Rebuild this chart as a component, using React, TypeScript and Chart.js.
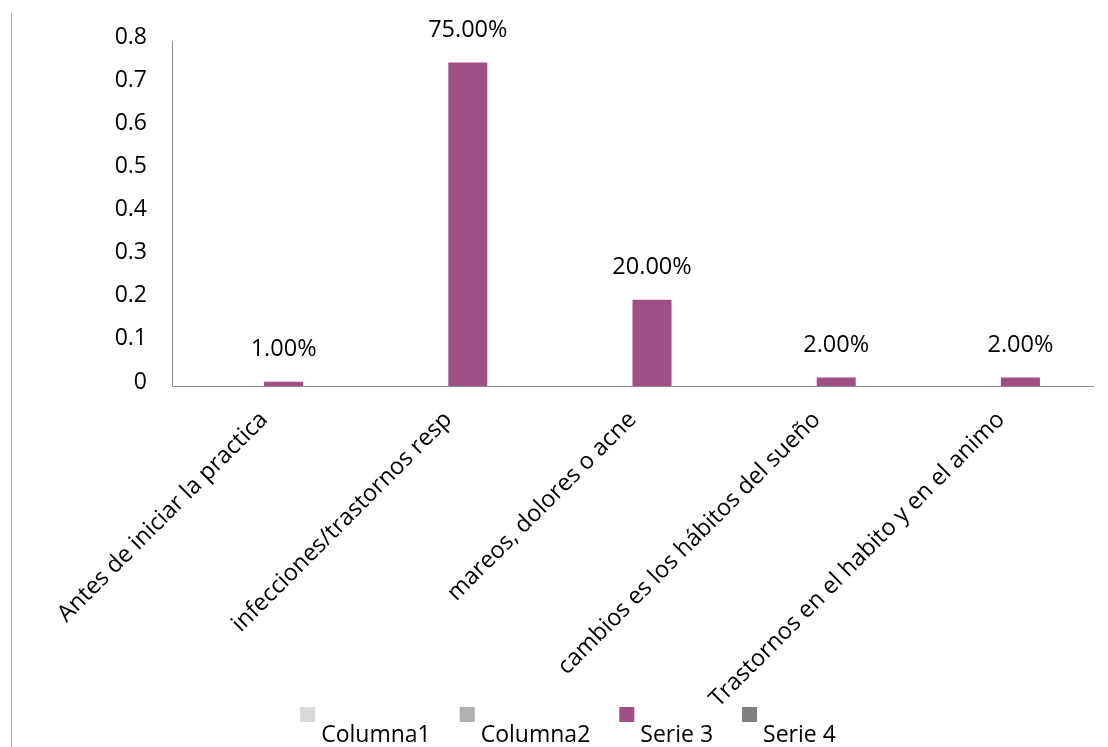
import React, { useEffect, useRef } from 'react';
import { Chart, registerables } from 'chart.js';

Chart.register(...registerables);

const categories = [
  'Antes de iniciar la practica',
  'infecciones/trastornos resp',
  'mareos, dolores o acne',
  'cambios es los hábitos del sueño',
  'Trastornos en el habito y en el animo',
];
const seriesNames = ['Columna1', 'Columna2', 'Serie 3', 'Serie 4'];
const columna1: (number | null)[] = [null, null, null, null, null];
const columna2: (number | null)[] = [null, null, null, null, null];
const serie3: (number | null)[] = [0.01, 0.75, 0.2, 0.02, 0.02];
const serie4: (number | null)[] = [null, null, null, null, null];
const yTickLabels = ['0', '0.1', '0.2', '0.3', '0.4', '0.5', '0.6', '0.7', '0.8'];
const seriesColors = ['#D9D9D9', '#B0B0B0', '#A04F84', '#808080'];

const FONT = "'Open Sans', sans-serif";

const decorPlugin = {
  id: 'decor',
  beforeDraw(chart: any) {
    const ctx = chart.ctx;
    ctx.save();
    ctx.strokeStyle = '#A6A6A6';
    ctx.lineWidth = 1;
    ctx.beginPath();
    ctx.moveTo(11.5, 13);
    ctx.lineTo(11.5, chart.height);
    ctx.stroke();
    ctx.restore();
  },
  afterDatasetsDraw(chart: any) {
    const ctx = chart.ctx;
    ctx.save();
    ctx.font = `23.5px ${FONT}`;
    ctx.fillStyle = '#000';
    ctx.textAlign = 'center';
    ctx.textBaseline = 'middle';
    chart.data.datasets.forEach((ds: any, di: number) => {
      const meta = chart.getDatasetMeta(di);
      ds.data.forEach((v: number | null, i: number) => {
        if (v === null || v === undefined) return;
        const el = meta.data[i];
        ctx.fillText((v * 100).toFixed(2) + '%', el.x, el.y - 32);
      });
    });
    ctx.restore();
  },
  afterDraw(chart: any) {
    const ctx = chart.ctx;
    ctx.save();
    ctx.font = `23px ${FONT}`;
    ctx.textBaseline = 'alphabetic';
    ctx.textAlign = 'left';
    const box = 15;
    const gapText = 6;
    const gapItem = 29;
    const dss = chart.data.datasets;
    const widths = dss.map((ds: any) => ctx.measureText(ds.label).width);
    const total =
      widths.reduce((a: number, w: number) => a + box + gapText + w, 0) + gapItem * (dss.length - 1);
    let x = 568 - total / 2;
    dss.forEach((ds: any, i: number) => {
      ctx.fillStyle = ds.backgroundColor;
      ctx.fillRect(x, 707, box, box);
      ctx.fillStyle = '#000';
      ctx.fillText(ds.label, x + box + gapText, 742);
      x += box + gapText + widths[i] + gapItem;
    });
    ctx.restore();
  },
};

export default function App() {
  const canvasRef = useRef<HTMLCanvasElement | null>(null);

  useEffect(() => {
    if (!canvasRef.current) return;
    const seriesData = [columna1, columna2, serie3, serie4];
    const chart = new Chart(canvasRef.current, {
      type: 'bar',
      data: {
        labels: categories,
        datasets: seriesNames.map((name, i) => ({
          label: name,
          data: seriesData[i],
          backgroundColor: seriesColors[i],
          borderWidth: 0,
          categoryPercentage: 0.847,
          barPercentage: 1.0,
        })),
      },
      options: {
        animation: false,
        responsive: true,
        maintainAspectRatio: false,
        layout: { padding: { top: 41, right: 15, left: 0, bottom: 0 } },
        plugins: {
          legend: { display: false },
          tooltip: { enabled: false },
        },
        scales: {
          x: {
            grid: { display: false },
            border: { display: true, color: '#8C8C8C', width: 1 },
            ticks: {
              autoSkip: false,
              minRotation: 45,
              maxRotation: 45,
              padding: 12,
              color: '#000',
              font: { family: FONT, size: 23.5 },
            },
            afterFit: (scale: any) => {
              scale.height = 361;
            },
          },
          y: {
            min: 0,
            max: 0.8,
            grid: { display: false },
            border: { display: true, color: '#8C8C8C', width: 1 },
            ticks: {
              stepSize: 0.1,
              padding: 17,
              labelOffset: -4,
              color: '#000',
              font: { family: FONT, size: 23 },
              callback: (value: any) => yTickLabels[Math.round(Number(value) * 10)],
            },
            afterFit: (scale: any) => {
              scale.width = 172;
            },
          },
        },
      },
      plugins: [decorPlugin],
    });
    return () => chart.destroy();
  }, []);

  return (
    <div style={{ position: 'fixed', left: 0, top: 0, width: 1108, height: 747, background: '#fff' }}>
      <canvas ref={canvasRef} style={{ display: 'block' }} />
    </div>
  );
}
